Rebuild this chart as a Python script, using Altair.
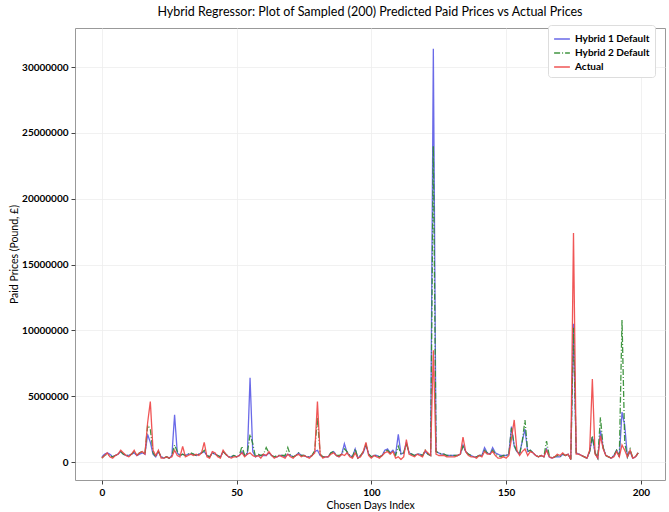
import altair as alt
import pandas as pd

idx = list(range(200))

actual_m = [
    0.3,0.5,0.7,0.4,0.3,0.5,0.6,0.9,0.7,0.5,
    0.4,0.6,0.9,0.5,0.7,0.8,0.6,3.0,4.6,0.9,
    0.5,0.9,0.3,0.3,0.4,0.3,0.4,0.9,0.5,0.4,
    1.2,0.4,0.5,0.6,0.5,0.6,0.5,0.7,1.5,0.4,
    0.3,0.8,0.7,0.4,0.3,0.9,0.6,0.4,0.3,0.4,
    0.4,0.5,0.7,0.4,0.6,0.7,0.5,0.4,0.5,0.3,
    0.6,0.5,0.8,0.5,0.3,0.4,0.5,0.4,0.3,0.6,
    0.4,0.3,0.5,0.6,0.4,0.5,0.4,0.3,0.5,0.7,
    4.6,0.6,0.3,0.4,0.4,0.6,0.7,0.5,0.4,0.6,
    0.5,0.7,0.4,0.3,0.7,0.3,0.4,0.8,1.5,0.5,
    0.3,0.5,0.4,0.3,0.5,0.7,0.8,0.6,0.8,0.3,
    0.4,0.2,0.4,1.7,0.6,0.5,0.4,0.6,0.5,0.4,
    0.9,0.7,0.5,8.5,0.6,0.5,0.5,0.5,0.4,0.4,
    0.4,0.4,0.5,0.6,1.9,0.8,0.5,0.4,0.4,0.3,
    0.5,0.4,0.8,0.6,0.6,0.8,0.5,0.3,0.3,0.4,
    0.3,0.5,1.8,3.2,0.9,0.5,0.8,1.0,0.5,0.8,
    0.7,0.5,0.4,0.5,0.4,0.9,0.4,0.3,0.4,0.6,
    0.5,0.7,0.5,0.6,0.2,17.4,0.6,0.6,0.5,0.4,
    0.3,0.9,6.3,0.6,0.3,2.0,1.0,0.5,0.4,0.3,
    0.4,0.8,0.4,1.3,0.9,0.4,0.9,0.3,0.4,0.7,
]

hybrid1_m = [
    0.4,0.6,0.7,0.6,0.4,0.5,0.6,0.8,0.6,0.5,
    0.5,0.6,0.7,0.5,0.6,0.7,0.6,2.1,1.5,0.6,
    0.4,0.8,0.4,0.3,0.4,0.3,0.5,3.6,0.7,0.5,
    0.6,0.5,0.6,0.6,0.6,0.5,0.6,0.7,0.8,0.5,
    0.4,0.7,0.6,0.5,0.4,0.8,0.6,0.4,0.4,0.5,
    0.4,0.5,0.8,0.5,0.6,6.4,0.8,0.4,0.5,0.5,
    0.5,0.5,0.7,0.5,0.4,0.4,0.5,0.5,0.4,0.6,
    0.5,0.4,0.5,0.7,0.5,0.5,0.4,0.4,0.5,0.8,
    0.9,0.5,0.4,0.4,0.4,0.7,0.8,0.5,0.4,0.6,
    1.4,0.7,0.5,0.4,1.0,0.3,0.5,0.7,1.3,0.6,
    0.4,0.5,0.5,0.4,0.5,0.9,1.0,0.7,0.9,0.6,
    2.1,0.6,0.7,1.5,0.7,0.6,0.5,0.6,0.6,0.5,
    0.8,0.6,0.5,31.4,0.8,0.7,0.6,0.6,0.5,0.5,
    0.5,0.5,0.5,0.6,1.3,0.8,0.6,0.5,0.4,0.4,
    0.5,0.5,1.1,0.7,0.6,1.1,0.7,0.6,0.5,0.5,
    0.5,0.6,2.7,1.2,0.8,0.6,1.6,2.5,0.8,0.9,
    0.7,0.5,0.4,0.5,0.4,1.0,0.4,0.3,0.4,0.4,
    0.4,0.6,0.5,0.6,0.2,10.5,0.7,0.6,0.5,0.4,
    0.3,0.8,1.9,0.7,0.3,2.4,1.1,0.5,0.4,0.3,
    0.5,0.9,0.4,3.8,2.8,0.4,0.8,0.3,0.4,0.7,
]

hybrid2_m = [
    0.3,0.5,0.6,0.5,0.4,0.5,0.6,0.8,0.6,0.5,
    0.5,0.6,0.8,0.5,0.7,0.8,0.6,2.8,2.5,0.7,
    0.4,0.8,0.4,0.3,0.4,0.3,0.5,1.3,0.8,0.5,
    0.6,0.5,0.6,0.7,0.6,0.5,0.6,0.7,0.9,0.5,
    0.4,0.7,0.6,0.5,0.4,0.8,0.6,0.4,0.4,0.5,
    0.4,0.5,1.2,0.5,0.7,2.1,1.4,0.4,0.6,0.5,
    0.6,1.1,0.7,0.5,0.4,0.5,0.5,0.5,0.5,1.1,
    0.5,0.4,0.5,0.7,0.5,0.5,0.4,0.4,0.5,0.9,
    3.4,0.6,0.4,0.4,0.4,0.7,0.8,0.5,0.5,0.6,
    1.0,0.8,0.5,0.4,1.0,0.3,0.5,0.8,1.3,0.6,
    0.4,0.5,0.5,0.4,0.5,0.8,0.9,0.7,0.8,0.5,
    1.2,0.6,0.7,1.4,0.7,0.6,0.5,0.6,0.6,0.5,
    0.9,0.6,0.5,24.0,0.8,0.7,0.6,0.6,0.5,0.5,
    0.5,0.5,0.5,0.6,1.2,0.8,0.6,0.5,0.4,0.4,
    0.5,0.5,0.9,0.7,0.6,0.9,0.6,0.5,0.4,0.5,
    0.5,0.6,2.6,1.3,0.8,0.6,1.6,3.2,0.8,0.9,
    0.7,0.5,0.4,0.5,0.4,1.6,0.5,0.3,0.4,0.5,
    0.4,0.6,0.5,0.6,0.2,10.2,0.7,0.6,0.5,0.4,
    0.3,0.8,2.0,0.7,0.3,3.4,1.1,0.5,0.4,0.3,
    0.5,0.9,0.4,10.8,1.5,0.4,1.0,0.3,0.4,0.7,
]

series_names = ["Hybrid 1 Default", "Hybrid 2 Default", "Actual"]
series_colors = ["#5a5ae6", "#2e8b2e", "#ee4444"]
series_dash = [[1, 0], [6, 2, 1, 2], [1, 0]]

rows = []
for name, vals in zip(series_names, [hybrid1_m, hybrid2_m, actual_m]):
    for i, v in zip(idx, vals):
        rows.append({"idx": i, "price": v * 1e6, "series": name})
df = pd.DataFrame(rows)

FONT = "Lato"

base = alt.Chart(df).mark_line(strokeWidth=1.3, opacity=0.9, clip=True).encode(
    x=alt.X("idx:Q", scale=alt.Scale(domain=[-9.95, 208.95], nice=False, zero=False),
            axis=alt.Axis(values=[0, 50, 100, 150, 200], title="Chosen Days Index",
                          labelFontWeight="bold", format="d")),
    y=alt.Y("price:Q", scale=alt.Scale(domain=[-1.36e6, 32.97e6], nice=False, zero=False),
            axis=alt.Axis(values=[0, 5e6, 10e6, 15e6, 20e6, 25e6, 30e6], format="d",
                          title="Paid Prices (Pound, £)", labelFontWeight="bold")),
    color=alt.Color("series:N", scale=alt.Scale(domain=series_names, range=series_colors),
                    title=None,
                    legend=alt.Legend(orient="none", legendX=473, legendY=-3,
                                      symbolType="stroke", symbolStrokeWidth=1.5,
                                      labelFontWeight="bold", labelFontSize=10,
                                      symbolSize=250, padding=5, rowPadding=0,
                                      fillColor="white", strokeColor="#dddddd",
                                      cornerRadius=3, labelFont=FONT)),
    strokeDash=alt.StrokeDash("series:N", scale=alt.Scale(domain=series_names, range=series_dash),
                              title=None, legend=None),
)

layers = [base.transform_filter(alt.datum.series == n) for n in series_names]

chart = alt.layer(*layers).properties(
    width=590, height=452,
    title=alt.Title("Hybrid Regressor: Plot of Sampled (200) Predicted Paid Prices vs Actual Prices",
                    fontSize=12.5, fontWeight="normal", font=FONT, anchor="middle", offset=6),
    autosize=alt.AutoSizeParams(type="none"),
    padding={"left": 75, "top": 28, "right": 4, "bottom": 32},
).configure_view(
    stroke="#999999", strokeWidth=1
).configure_axis(
    labelFont=FONT, titleFont=FONT, labelFontSize=10, titleFontSize=10.5,
    titleFontWeight="normal", labelColor="#000000", titleColor="#000000",
    grid=True, gridColor="#eeeeee", gridWidth=0.8, domain=False,
    tickColor="#444444", tickSize=4, labelPadding=3
).configure_axisX(titlePadding=3).configure_axisY(titlePadding=2)

chart.save("out.html", embed_options={"renderer": "svg", "actions": False})
